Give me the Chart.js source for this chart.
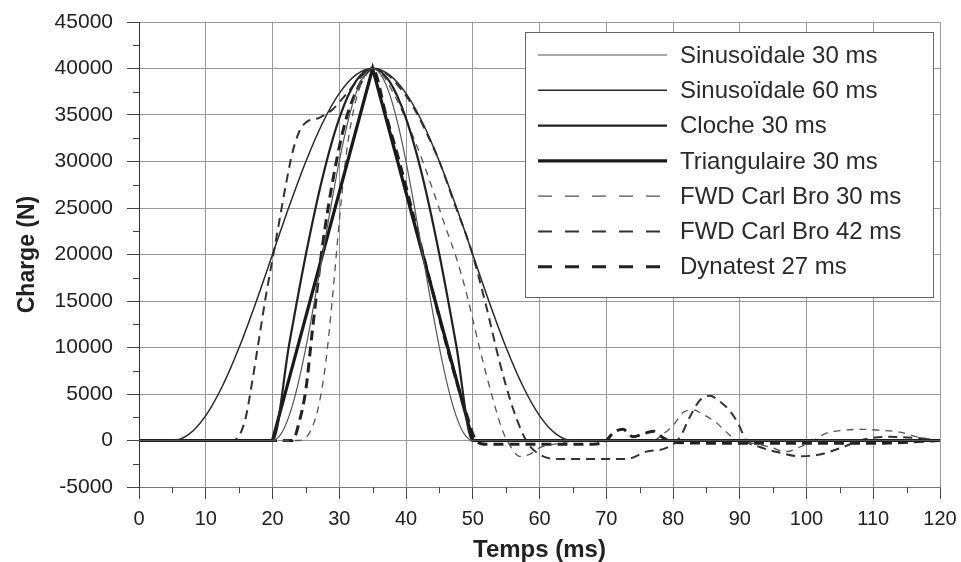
<!DOCTYPE html>
<html>
<head>
<meta charset="utf-8">
<script src="https://cdn.jsdelivr.net/npm/chart.js@4.4.1/dist/chart.umd.min.js"></script>
<style>
  html, body { margin: 0; padding: 0; background: #fff; }
</style>
</head>
<body>
<canvas id="chart" width="961" height="562"></canvas>
<script>
// temps (ms) / charge (N) pour chaque signal
const sin30T = [0, 20, 21.25, 22.5, 23.75, 25, 26.25, 27.5, 28.75, 30, 31.25, 32.5, 33.75, 35, 36.25, 37.5, 38.75, 40, 41.25, 42.5, 43.75, 45, 46.25, 47.5, 48.75, 50, 120];
const sin30Y = [0, 0, 681, 2679, 5858, 10000, 14824, 20000, 25176, 30000, 34142, 37321, 39319, 40000, 39319, 37321, 34142, 30000, 25176, 20000, 14824, 10000, 5858, 2679, 681, 0, 0];

const sin60T = [0, 5, 7.5, 10, 12.5, 15, 17.5, 20, 22.5, 25, 27.5, 30, 32.5, 35, 37.5, 40, 42.5, 45, 47.5, 50, 52.5, 55, 57.5, 60, 62.5, 65, 120];
const sin60Y = [0, 0, 681, 2679, 5858, 10000, 14824, 20000, 25176, 30000, 34142, 37321, 39319, 40000, 39319, 37321, 34142, 30000, 25176, 20000, 14824, 10000, 5858, 2679, 681, 0, 0];

const clocheT = [0, 20, 22.5, 25, 27.5, 30, 32.5, 35, 37.5, 40, 42.5, 45, 47.5, 50, 120];
const clocheY = [0, 0, 10353, 20000, 28284, 34641, 38637, 40000, 38637, 34641, 28284, 20000, 10353, 0, 0];

const triT = [0, 20, 35, 50, 120];
const triY = [0, 0, 40000, 0, 0];

const fwd30T = [0, 24, 25, 26, 27, 28, 29, 30, 31, 32, 33, 34, 35, 36.5, 38, 40, 42, 44, 46, 47.6, 49, 51, 53, 54.5, 56, 57, 58.5, 60, 63, 66, 70, 75, 77, 78.5, 80, 81.5, 83, 84.5, 86.5, 88, 89.5, 92, 94.5, 97, 99, 101, 103, 105.5, 108, 111, 114, 116.5, 120];
const fwd30Y = [0, 0, 300, 1500, 4000, 8500, 15500, 23500, 30500, 35000, 37800, 39400, 40000, 39300, 37500, 34500, 31000, 27000, 22800, 19500, 16000, 10000, 4500, 1000, -1000, -1700, -1500, -800, -300, 0, 0, 0, 0, 700, 1600, 3000, 3300, 2800, 1900, 900, 0, -300, -700, -1200, -700, 0, 800, 1100, 1200, 1100, 900, 400, 0];

const fwd42T = [0, 14, 15, 16, 17, 18, 19, 20, 21, 22, 23, 24, 25, 27, 29, 31, 33, 35, 37, 39, 41, 43, 45, 47, 49.8, 52, 54, 56, 58, 60, 63, 68, 73, 76, 79, 81, 82.5, 84, 85.5, 87, 88.5, 89.7, 91, 93, 96, 99, 102, 105.5, 108, 112, 116, 120];
const fwd42Y = [0, 0, 500, 2500, 6500, 11000, 15500, 19500, 23500, 27500, 31000, 33200, 34200, 34700, 35600, 37200, 38900, 40000, 39500, 38000, 36000, 33200, 30000, 26000, 20400, 14500, 8500, 3500, 0, -1500, -2000, -2000, -2000, -1200, -800, 300, 2500, 4300, 4800, 4200, 3200, 1900, 0, -700, -1300, -1700, -1500, -700, 0, 400, 300, 0];

const dynaT = [0, 23, 24, 25, 26, 27.5, 29.3, 31, 33, 35, 37, 39, 41, 43, 45, 47, 49, 50.5, 52, 60, 68, 70, 71, 72.5, 74, 75.5, 77, 78.5, 80, 90, 100, 110, 120];
const dynaY = [0, 0, 2000, 5500, 12000, 21000, 29000, 34500, 38200, 40000, 35000, 30000, 24500, 18800, 13200, 7800, 3000, 0, -400, -400, -400, 0, 800, 1200, 400, 700, 1000, 300, -200, -300, -300, -300, 0];

const xMinor = [5, 15, 25, 35, 45, 55, 65, 75, 85, 95, 105, 115];
const yMinor = [-2500, 2500, 7500, 12500, 17500, 22500, 27500, 32500, 37500, 42500];

const pts = (t, v) => t.map((x, i) => ({ x: x, y: v[i] }));
const FONT = "'Liberation Sans', Arial, sans-serif";

const datasets = [
  { label: 'Sinusoïdale 30 ms', data: pts(sin30T, sin30Y), borderColor: '#555', borderWidth: 1.2, cubicInterpolationMode: 'monotone' },
  { label: 'Sinusoïdale 60 ms', data: pts(sin60T, sin60Y), borderColor: '#2a2a2a', borderWidth: 1.5, cubicInterpolationMode: 'monotone' },
  { label: 'Cloche 30 ms', data: pts(clocheT, clocheY), borderColor: '#222', borderWidth: 2.2, cubicInterpolationMode: 'monotone' },
  { label: 'Triangulaire 30 ms', data: pts(triT, triY), borderColor: '#1a1a1a', borderWidth: 3.2 },
  { label: 'FWD Carl Bro 30 ms', data: pts(fwd30T, fwd30Y), borderColor: '#555', borderWidth: 1.3, borderDash: [7, 6], cubicInterpolationMode: 'monotone' },
  { label: 'FWD Carl Bro 42 ms', data: pts(fwd42T, fwd42Y), borderColor: '#333', borderWidth: 2, borderDash: [9, 6], cubicInterpolationMode: 'monotone' },
  { label: 'Dynatest 27 ms', data: pts(dynaT, dynaY), borderColor: '#222', borderWidth: 3, borderDash: [10, 6], cubicInterpolationMode: 'monotone' }
];

// petits traits secondaires sur les axes
const minorTicks = {
  id: 'minorTicks',
  afterDraw(chart) {
    const { ctx, scales: { x, y } } = chart;
    ctx.save();
    ctx.strokeStyle = '#444';
    ctx.lineWidth = 1;
    ctx.beginPath();
    xMinor.forEach(v => {
      const px = Math.round(x.getPixelForValue(v)) + 0.5;
      ctx.moveTo(px, y.bottom);
      ctx.lineTo(px, y.bottom + 6);
    });
    yMinor.forEach(v => {
      const py = Math.round(y.getPixelForValue(v)) + 0.5;
      ctx.moveTo(x.left - 6, py);
      ctx.lineTo(x.left, py);
    });
    ctx.stroke();
    ctx.restore();
  }
};

// légende encadrée dans la zone du graphique
const boxLegend = {
  id: 'boxLegend',
  afterDatasetsDraw(chart) {
    const ctx = chart.ctx;
    ctx.save();
    ctx.fillStyle = '#fff';
    ctx.fillRect(525, 32, 408, 265);
    ctx.strokeStyle = '#666';
    ctx.lineWidth = 1;
    ctx.strokeRect(525.5, 32.5, 408, 265);
    ctx.font = '24px ' + FONT;
    ctx.textBaseline = 'middle';
    chart.data.datasets.forEach((ds, i) => {
      const yy = 55 + i * 35.3;
      ctx.beginPath();
      ctx.strokeStyle = ds.borderColor;
      ctx.lineWidth = ds.borderWidth;
      ctx.setLineDash(ds.borderDash ? [14, 13] : []);
      ctx.moveTo(538, yy);
      ctx.lineTo(667, yy);
      ctx.stroke();
      ctx.setLineDash([]);
      ctx.fillStyle = '#2a2a2a';
      ctx.fillText(ds.label, 680, yy + 1);
    });
    ctx.restore();
  }
};

const config = {
  type: 'line',
  data: { datasets: datasets },
  options: {
    responsive: false,
    animation: false,
    elements: { point: { radius: 0 }, line: { tension: 0 } },
    layout: { padding: { left: 0, right: 21, top: 22, bottom: 0 } },
    plugins: { legend: { display: false }, tooltip: { enabled: false } },
    scales: {
      x: {
        type: 'linear',
        min: 0,
        max: 120,
        ticks: { stepSize: 10, color: '#222', padding: 8, font: { family: FONT, size: 20 } },
        grid: { color: '#999', tickColor: '#444', tickLength: 12 },
        border: { color: '#777' },
        title: { display: true, text: 'Temps (ms)', color: '#222', padding: 0, font: { family: FONT, size: 24, weight: 'bold', lineHeight: 1 } },
        afterFit: s => { s.height = 75; s.paddingLeft = 0; s.paddingRight = 0; }
      },
      y: {
        min: -5000,
        max: 45000,
        ticks: { stepSize: 5000, color: '#222', padding: 14, font: { family: FONT, size: 21 }, callback: v => String(v) },
        grid: { color: '#999', tickColor: '#444', tickLength: 12 },
        border: { color: '#333' },
        title: { display: true, text: 'Charge (N)', color: '#222', padding: { top: 14, bottom: 0 }, font: { family: FONT, size: 23, weight: 'bold' } },
        afterFit: s => { s.width = 139; s.paddingTop = 0; s.paddingBottom = 0; }
      }
    }
  },
  plugins: [boxLegend, minorTicks]
};

const myChart = new Chart(document.getElementById('chart'), config);
</script>
</body>
</html>
